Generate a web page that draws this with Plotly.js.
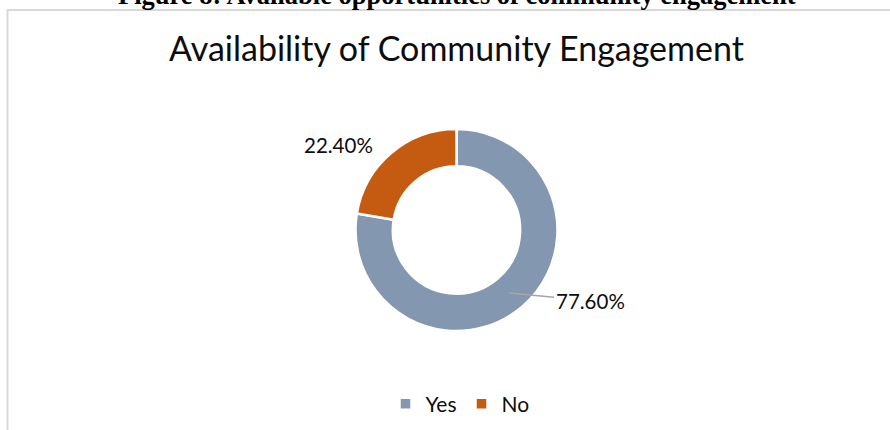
<!DOCTYPE html>
<html>
<head>
<meta charset="utf-8">
<script src="https://cdn.plot.ly/plotly-3.0.1.min.js"></script>
<style>html,body{margin:0;padding:0;background:#fff;overflow:hidden}#chart{width:890px;height:430px}</style>
</head>
<body>
<div id="chart"></div>
<script>
const caption = 'Figure 8: Available opportunities of community engagement';
const chartTitle = 'Availability of Community Engagement';
const labels = ['Yes', 'No'];
const values = [77.6, 22.4];
const colors = ['#8497b0', '#c55a11'];

const W = 890, H = 430;
const px = x => x / W;
const py = y => 1 - y / H;

const cx = 456.5, cy = 230, R = 101;

const fmt = v => v.toFixed(2) + '%';

const trace = {
  type: 'pie',
  labels: labels,
  values: values,
  hole: 0.63,
  sort: false,
  direction: 'clockwise',
  rotation: 0,
  textinfo: 'none',
  hoverinfo: 'none',
  marker: {colors: colors, line: {color: '#ffffff', width: 2.5}},
  domain: {x: [px(cx - R), px(cx + R)], y: [py(cy + R), py(cy - R)]}
};

const layout = {
  width: W, height: H,
  margin: {l: 0, r: 0, t: 0, b: 0},
  paper_bgcolor: '#ffffff',
  font: {family: 'Lato, sans-serif', color: '#0d0d0d'},
  title: {
    text: chartTitle,
    x: px(cx), xanchor: 'center',
    y: py(49.5), yanchor: 'middle',
    font: {family: 'Lato, sans-serif', size: 34, color: '#0d0d0d'}
  },
  showlegend: true,
  legend: {
    orientation: 'h',
    x: px(460), xanchor: 'center',
    y: py(404), yanchor: 'middle',
    font: {family: 'Lato, sans-serif', size: 21, color: '#0d0d0d'},
    itemclick: false
  },
  shapes: [{
    type: 'rect', xref: 'paper', yref: 'paper',
    x0: px(7.5), x1: 1.2, y0: -0.2, y1: py(10),
    line: {color: '#d9d9d9', width: 2}, fillcolor: 'rgba(0,0,0,0)'
  }],
  annotations: [
    {
      text: '<b>' + caption + '</b>', xref: 'paper', yref: 'paper',
      x: px(457), xanchor: 'center', y: py(-4.5), yanchor: 'middle',
      showarrow: false,
      font: {family: 'Liberation Serif, Times New Roman, serif', size: 26.5, color: '#000000'}
    },
    {
      text: fmt(values[1]), xref: 'paper', yref: 'paper',
      x: px(338), xanchor: 'center', y: py(144.5), yanchor: 'middle',
      showarrow: false,
      font: {family: 'Lato, sans-serif', size: 20.5, color: '#0d0d0d'}
    },
    {
      text: fmt(values[0]), xref: 'paper', yref: 'paper',
      x: px(509), y: py(293),
      ax: 81, ay: 7.5,
      showarrow: true, arrowhead: 0, arrowwidth: 1.5, arrowcolor: '#a6a6a6',
      standoff: 0, startstandoff: 0,
      font: {family: 'Lato, sans-serif', size: 20.5, color: '#0d0d0d'}
    }
  ]
};

Plotly.newPlot('chart', [trace], layout, {staticPlot: true, displayModeBar: false});
</script>
</body>
</html>
